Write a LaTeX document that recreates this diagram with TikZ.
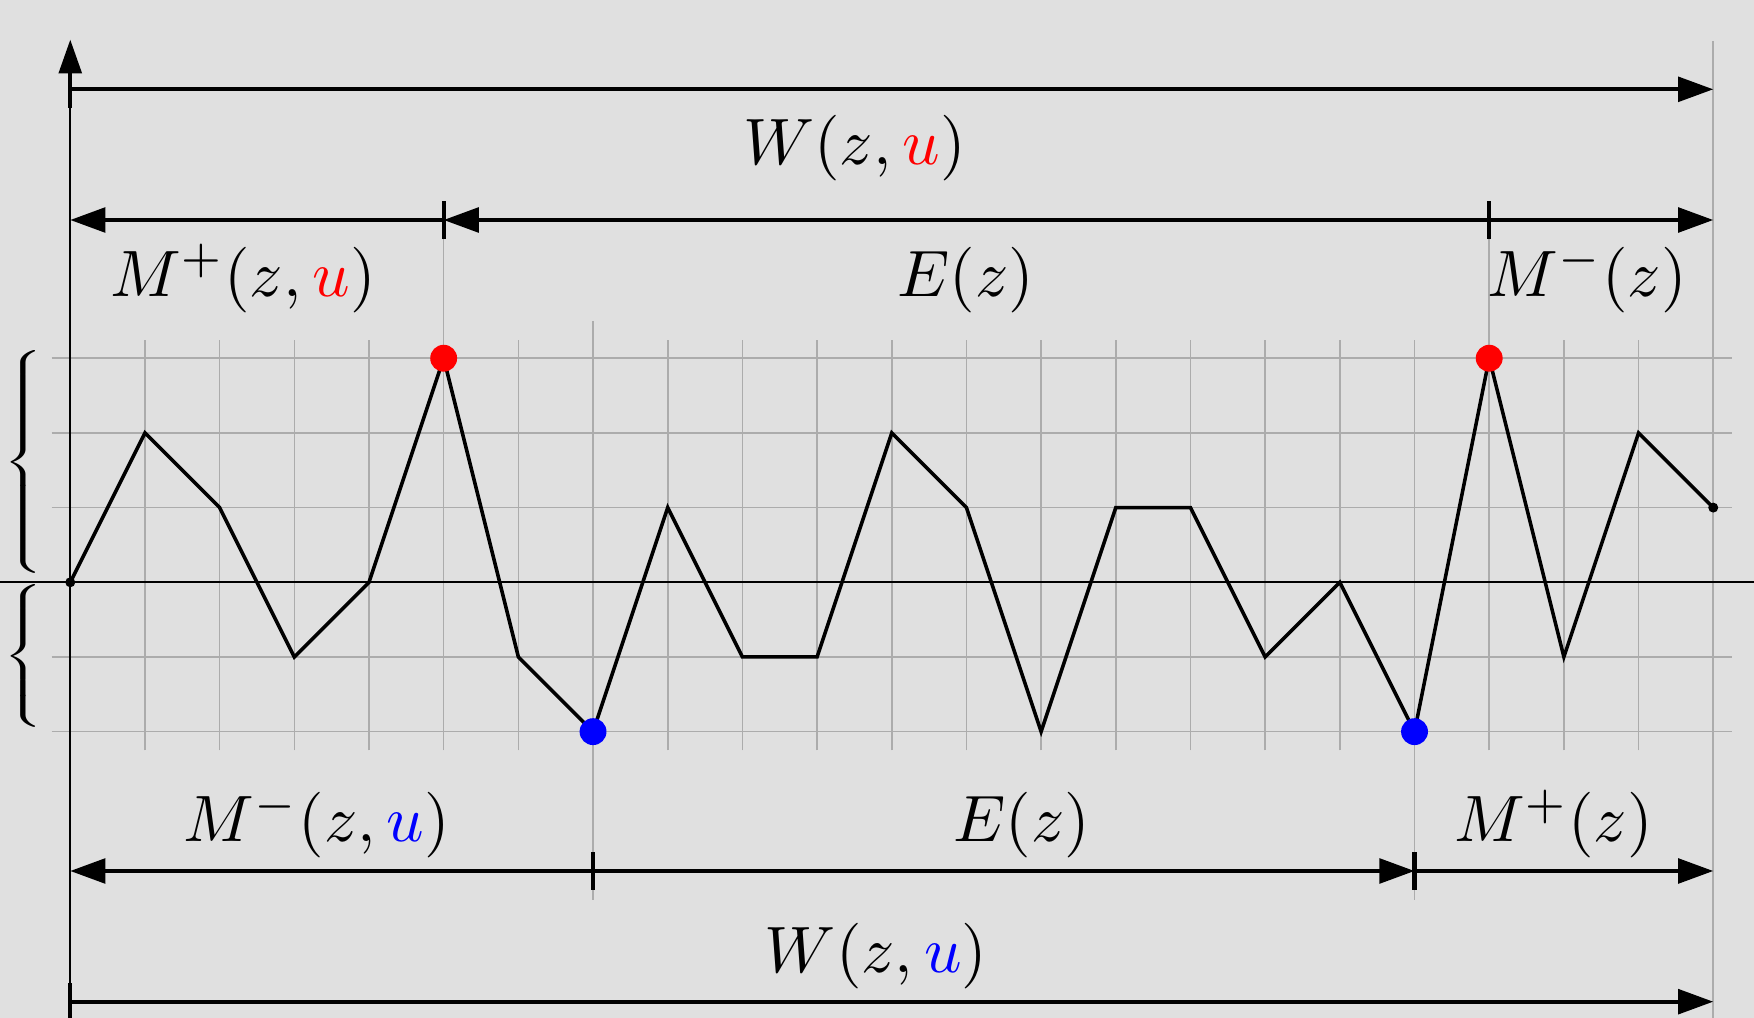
\documentclass[tikz,border=0pt]{standalone}
\usetikzlibrary{arrows.meta}
\definecolor{bgc}{RGB}{224,224,224}
\definecolor{gridc}{RGB}{172,172,172}
\begin{document}
\begin{tikzpicture}[x=1cm,y=1cm,
  lab/.style={scale=2.5, inner sep=0pt, anchor=base},
  dimline/.style={line width=1.4pt},
  tipend/.style={dimline, -{Triangle[length=0.47cm,width=0.33cm]}},
  tickmark/.style={line width=1.6pt},
  gridline/.style={gridc, line width=0.6pt},
  axisline/.style={line width=0.8pt},
  walk/.style={line width=1.35pt},
  bracenode/.style={inner sep=0pt, anchor=west, xscale=1.7, yscale=1.01}]
\fill[bgc] (-0.941,-5.834) rectangle (22.546,7.797);
\useasboundingbox (-0.941,-5.834) rectangle (22.546,7.797);

% grid
\draw[gridline] (-0.25,-2.25) grid (22.25,3.25);
\draw[gridline] (5,3.25) -- (5,4.85);
\draw[gridline] (19,3.25) -- (19,4.85);
\draw[gridline] (7,3.5) -- (7,-4.25);
\draw[gridline] (18,-2.25) -- (18,-4.25);
\draw[gridline] (22,7.25) -- (22,-5.834);

% axes
\coordinate (xl) at (-0.941,0);
\coordinate (xr) at (22.546,0);
\coordinate (yb) at (0,-5.834);
\coordinate (yt) at (0,7.264);
\draw[axisline] (xl) -- (xr);
\draw[axisline, -{Triangle[length=0.45cm,width=0.31cm]}] (yb) -- (yt);

% dimension coordinates
\coordinate (t0) at (0,6.601);
\coordinate (t22) at (22,6.601);
\coordinate (s0) at (0,4.851);
\coordinate (s5) at (5,4.851);
\coordinate (s19) at (19,4.851);
\coordinate (s22) at (22,4.851);
\coordinate (l0) at (0,-3.866);
\coordinate (l7) at (7,-3.866);
\coordinate (l18) at (18,-3.866);
\coordinate (l22) at (22,-3.866);
\coordinate (b0) at (0,-5.616);
\coordinate (b22) at (22,-5.616);

% top W arrow
\draw[tipend] (t0) -- (t22);
\draw[tickmark] ([yshift=-0.25cm]t0) -- ([yshift=0.25cm]t0);
% second row
\draw[tipend] (s5) -- (s0);
\draw[tipend] (s19) -- (s5);
\draw[tipend] (s19) -- (s22);
\draw[tickmark] ([yshift=-0.25cm]s5) -- ([yshift=0.25cm]s5);
\draw[tickmark] ([yshift=-0.25cm]s19) -- ([yshift=0.25cm]s19);
% lower row
\draw[tipend] (l7) -- (l0);
\draw[tipend] (l7) -- (l18);
\draw[tipend] (l18) -- (l22);
\draw[tickmark] ([yshift=-0.25cm]l7) -- ([yshift=0.25cm]l7);
\draw[tickmark] ([yshift=-0.25cm]l18) -- ([yshift=0.25cm]l18);
% bottom W arrow
\draw[tipend] (b0) -- (b22);
\draw[tickmark] ([yshift=-0.25cm]b0) -- ([yshift=0.25cm]b0);

% walk
\draw[walk] (0,0) -- (1,2) -- (2,1) -- (3,-1) -- (4,0) -- (5,3) -- (6,-1) -- (7,-2)
  -- (8,1) -- (9,-1) -- (10,-1) -- (11,2) -- (12,1) -- (13,-2) -- (14,1) -- (15,1)
  -- (16,-1) -- (17,0) -- (18,-2) -- (19,3) -- (20,-1) -- (21,2) -- (22,1);
\fill (0,0) circle (0.067);
\fill (22,1) circle (0.067);
\fill[red] (5,3) circle (0.18);
\fill[red] (19,3) circle (0.18);
\fill[blue] (7,-2) circle (0.18);
\fill[blue] (18,-2) circle (0.18);

% braces
\node[bracenode] (bu) at (-0.91,1.61)
  {\delimiterfactor=1000 \delimitershortfall=0pt \nulldelimiterspace=0pt
   $\left\{\vrule height 42.5pt depth 37.5pt width 0pt\right.$};
\node[bracenode] (bl) at (-0.91,-0.99)
  {\delimiterfactor=1000 \delimitershortfall=0pt \nulldelimiterspace=0pt
   $\left\{\vrule height 27.5pt depth 22.5pt width 0pt\right.$};

% labels
\node[lab] (Wt) at (10.50,5.593) {$W(z,{\color{red}u})$};
\node[lab] (Mpt) at (2.31,3.828) {$M^+(z,{\color{red}u})$};
\node[lab] (Et) at (11.99,3.828) {$E(z)$};
\node[lab] (Mmt) at (20.31,3.828) {$M^-(z)$};
\node[lab] (Mmb) at (3.30,-3.477) {$M^-(z,{\color{blue}u})$};
\node[lab] (Eb) at (12.74,-3.477) {$E(z)$};
\node[lab] (Mpb) at (19.86,-3.477) {$M^+(z)$};
\node[lab] (Wb) at (10.79,-5.22) {$W(z,{\color{blue}u})$};
\end{tikzpicture}
\end{document}
